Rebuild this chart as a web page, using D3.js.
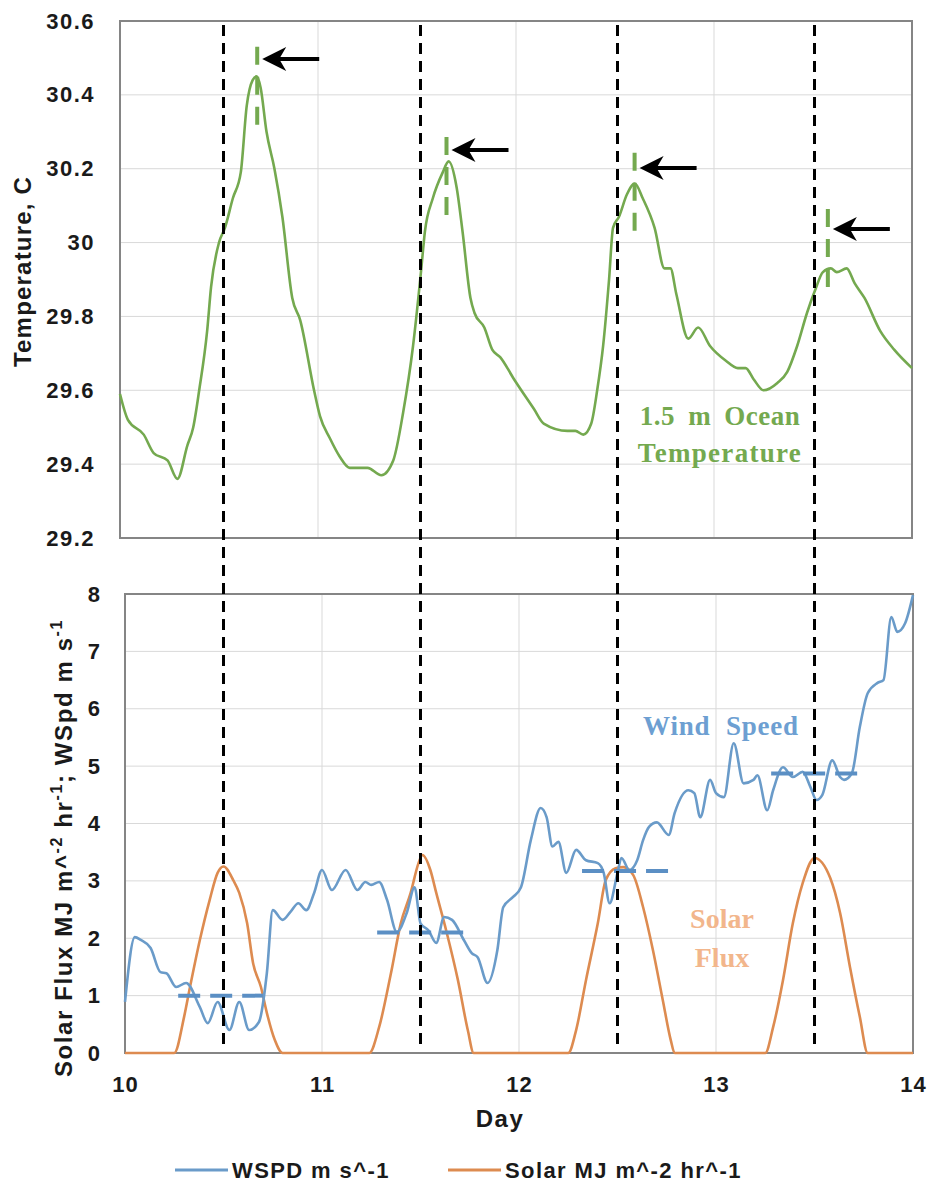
<!DOCTYPE html>
<html>
<head>
<meta charset="utf-8">
<script src="https://cdn.jsdelivr.net/npm/d3@7"></script>
<style>
  body { margin: 0; background: #fff; }
  text { font-family: "Liberation Sans", Arial, sans-serif; font-weight: bold; fill: #1a1a1a; }
  .grid line { stroke: #d9d9d9; stroke-width: 1; }
  .frame { fill: none; stroke: #858585; stroke-width: 2; }
  .note { font-family: "Liberation Serif", "Times New Roman", serif; font-weight: bold; }
</style>
</head>
<body>
<script>
// 1.5 m ocean temperature (day, deg C)
var tempSeries = [
  [10.00,29.59],[10.04,29.52],[10.12,29.48],[10.17,29.43],[10.24,29.41],[10.29,29.36],[10.34,29.45],
  [10.37,29.50],[10.40,29.60],[10.44,29.76],[10.46,29.88],[10.50,30.00],[10.53,30.04],[10.57,30.12],
  [10.61,30.19],[10.64,30.37],[10.67,30.44],[10.69,30.45],[10.71,30.42],[10.74,30.30],[10.78,30.20],
  [10.82,30.07],[10.87,29.85],[10.91,29.79],[10.98,29.60],[11.01,29.53],[11.06,29.47],[11.11,29.42],
  [11.16,29.39],[11.25,29.39],[11.32,29.37],[11.38,29.41],[11.43,29.54],[11.48,29.72],[11.52,29.92],
  [11.54,30.03],[11.58,30.12],[11.63,30.19],[11.66,30.22],[11.70,30.15],[11.73,30.03],[11.77,29.85],
  [11.79,29.81],[11.84,29.77],[11.88,29.71],[11.92,29.69],[11.99,29.63],[12.09,29.55],[12.14,29.51],
  [12.26,29.49],[12.30,29.49],[12.34,29.48],[12.38,29.51],[12.41,29.60],[12.44,29.72],[12.47,29.90],
  [12.49,30.04],[12.52,30.07],[12.56,30.13],[12.60,30.16],[12.64,30.12],[12.70,30.04],[12.75,29.93],
  [12.78,29.93],[12.81,29.86],[12.87,29.74],[12.92,29.77],[12.98,29.72],[13.06,29.68],[13.12,29.66],
  [13.16,29.66],[13.20,29.63],[13.25,29.60],[13.32,29.62],[13.37,29.65],[13.42,29.72],[13.47,29.81],
  [13.51,29.87],[13.55,29.92],[13.59,29.93],[13.62,29.92],[13.67,29.93],[13.71,29.89],[13.76,29.85],
  [13.84,29.76],[13.91,29.71],[14.00,29.66]
];

// wind speed, m/s
var windSeries = [
  [10.00,0.89],[10.05,2.02],[10.08,1.97],[10.13,1.83],[10.18,1.41],[10.21,1.39],[10.26,1.15],[10.31,1.22],
  [10.38,0.80],[10.42,0.52],[10.47,0.89],[10.53,0.40],[10.58,0.89],[10.63,0.40],[10.68,0.54],[10.72,1.39],
  [10.75,2.49],[10.80,2.32],[10.84,2.46],[10.88,2.61],[10.92,2.49],[10.96,2.79],[11.00,3.19],[11.05,2.84],
  [11.12,3.19],[11.18,2.84],[11.22,2.98],[11.25,2.93],[11.29,2.98],[11.33,2.67],[11.38,2.11],[11.43,2.44],
  [11.47,2.89],[11.50,2.26],[11.54,2.14],[11.58,1.92],[11.62,2.37],[11.66,2.32],[11.72,1.97],[11.76,1.74],
  [11.79,1.67],[11.84,1.22],[11.89,1.79],[11.92,2.54],[11.97,2.72],[12.01,2.89],[12.06,3.71],[12.11,4.27],
  [12.14,4.11],[12.17,3.60],[12.20,3.68],[12.24,3.14],[12.29,3.54],[12.34,3.36],[12.40,3.31],[12.43,3.14],
  [12.46,2.61],[12.50,3.14],[12.52,3.40],[12.56,3.19],[12.60,3.36],[12.63,3.71],[12.66,3.94],[12.70,4.02],
  [12.76,3.80],[12.79,4.18],[12.86,4.58],[12.89,4.53],[12.92,4.11],[12.97,4.76],[13.00,4.53],[13.04,4.46],
  [13.09,5.40],[13.14,4.70],[13.19,4.76],[13.21,4.84],[13.26,4.23],[13.29,4.58],[13.34,4.98],[13.39,4.81],
  [13.44,4.90],[13.48,4.63],[13.51,4.41],[13.54,4.50],[13.59,5.10],[13.63,4.81],[13.65,4.76],[13.69,4.88],
  [13.73,5.68],[13.77,6.27],[13.82,6.45],[13.85,6.50],[13.89,7.60],[13.92,7.34],[13.96,7.49],[14.00,7.98]
];

// solar flux, MJ m^-2 hr^-1
var solarSeries = [
  [10.00,0],[10.25,0],[10.30,0.63],[10.33,1.15],[10.38,1.97],[10.43,2.67],[10.47,3.14],[10.50,3.25],
  [10.55,3.01],[10.58,2.79],[10.62,2.26],[10.65,1.57],[10.69,1.15],[10.72,0.70],[10.76,0.23],[10.80,0],
  [11.24,0],[11.29,0.45],[11.35,1.39],[11.40,2.26],[11.45,2.79],[11.49,3.31],[11.51,3.45],[11.55,3.19],
  [11.58,2.79],[11.63,2.14],[11.69,1.27],[11.74,0.40],[11.77,0],[12.25,0],[12.29,0.40],[12.34,1.27],
  [12.40,2.26],[12.44,3.01],[12.49,3.22],[12.53,3.24],[12.58,3.10],[12.63,2.54],[12.68,1.79],[12.73,0.92],
  [12.77,0.23],[12.79,0],[13.25,0],[13.29,0.45],[13.34,1.27],[13.39,2.26],[13.44,2.96],[13.50,3.40],
  [13.58,3.05],[13.63,2.44],[13.68,1.50],[13.73,0.63],[13.77,0],[14.00,0]
];

// mean wind over each daylight window: [start, end, value]
var windMeans = [[10.27,10.70,1.0],[11.28,11.72,2.1],[12.32,12.76,3.17],[13.28,13.72,4.87]];

// local noon lines
var noonDays = [10.5, 11.5, 12.5, 13.5];

// temperature peaks: [day, marker top, marker bottom, arrow level]
var peakMarks = [
  [10.693, 30.530, 30.300, 30.497],
  [11.649, 30.286, 30.056, 30.251],
  [12.599, 30.243, 30.007, 30.202],
  [13.575, 30.091, 29.858, 30.037]
];

var dayTicks = [10, 11, 12, 13, 14];
var tempTicks = [29.2, 29.4, 29.6, 29.8, 30, 30.2, 30.4, 30.6];
var fluxTicks = [0, 1, 2, 3, 4, 5, 6, 7, 8];

var green = "#74a94f", blue = "#6a9bc9", orange = "#dd8b50";

var width = 930, height = 1184;

var svg = d3.select("body").append("svg")
    .attr("width", width)
    .attr("height", height);

// ---- top panel: temperature
var tBox = {left: 120, top: 21, width: 792, height: 517};

var xt = d3.scaleLinear().domain([10, 14]).range([tBox.left, tBox.left + tBox.width]);
var yt = d3.scaleLinear().domain([29.2, 30.6]).range([tBox.top + tBox.height, tBox.top]);

var gTop = svg.append("g");

gTop.append("g")
    .attr("class", "grid")
    .selectAll("line")
    .data(tempTicks.slice(1, -1))
    .enter().append("line")
    .attr("x1", tBox.left).attr("x2", tBox.left + tBox.width)
    .attr("y1", d => yt(d)).attr("y2", d => yt(d));

gTop.append("g")
    .attr("class", "grid")
    .selectAll("line")
    .data(dayTicks.slice(1, -1))
    .enter().append("line")
    .attr("x1", d => xt(d)).attr("x2", d => xt(d))
    .attr("y1", tBox.top).attr("y2", tBox.top + tBox.height);

gTop.append("rect")
    .attr("class", "frame")
    .attr("x", tBox.left).attr("y", tBox.top)
    .attr("width", tBox.width).attr("height", tBox.height);

gTop.append("g")
    .attr("transform", "translate(" + (tBox.left - 22) + ",0)")
    .call(d3.axisLeft(yt).tickValues(tempTicks).tickSize(0).tickFormat(d3.format("~g")))
    .call(g => g.select(".domain").remove())
    .selectAll("text")
    .style("font-size", "22px")
    .style("letter-spacing", "1.5px")
    .attr("fill", "#1a1a1a");

svg.append("text")
    .attr("transform", "translate(31," + (tBox.top + tBox.height / 2 - 8) + ") rotate(-90)")
    .attr("text-anchor", "middle")
    .style("font-size", "24px")
    .style("letter-spacing", "1.2px")
    .text("Temperature, C");

gTop.append("path")
    .datum(tempSeries)
    .attr("fill", "none")
    .attr("stroke", green)
    .attr("stroke-width", 2.6)
    .attr("d", d3.line().x(d => xt(d[0])).y(d => yt(d[1])).curve(d3.curveMonotoneX));

// peak markers and arrows
gTop.selectAll(".peak")
    .data(peakMarks)
    .enter().append("line")
    .attr("class", "peak")
    .attr("x1", d => xt(d[0])).attr("x2", d => xt(d[0]))
    .attr("y1", d => yt(d[1])).attr("y2", d => yt(d[2]))
    .attr("stroke", green)
    .attr("stroke-width", 4)
    .attr("stroke-dasharray", "18,12");

var arrow = gTop.selectAll(".arrow")
    .data(peakMarks)
    .enter().append("g")
    .attr("class", "arrow")
    .attr("transform", d => "translate(" + (xt(d[0]) + 5) + "," + yt(d[3]) + ")");

arrow.append("line")
    .attr("x1", 14).attr("x2", 57)
    .attr("stroke", "#000")
    .attr("stroke-width", 4);

arrow.append("path")
    .attr("d", "M0,0L24,-12L17,0L24,12Z")
    .attr("fill", "#000");

svg.append("text")
    .attr("class", "note")
    .attr("x", 720).attr("y", 425)
    .attr("text-anchor", "middle")
    .style("fill", green)
    .style("font-size", "27px")
    .style("letter-spacing", "0.5px")
    .style("word-spacing", "6px")
    .text("1.5 m Ocean");

svg.append("text")
    .attr("class", "note")
    .attr("x", 720).attr("y", 462)
    .attr("text-anchor", "middle")
    .style("fill", green)
    .style("font-size", "27px")
    .style("letter-spacing", "1.3px")
    .text("Temperature");

// ---- bottom panel: wind and solar
var bBox = {left: 125, top: 594, width: 788, height: 459};

var xb = d3.scaleLinear().domain([10, 14]).range([bBox.left, bBox.left + bBox.width]);
var yb = d3.scaleLinear().domain([0, 8]).range([bBox.top + bBox.height, bBox.top]);

var gBot = svg.append("g");

gBot.append("g")
    .attr("class", "grid")
    .selectAll("line")
    .data(fluxTicks.slice(1, -1))
    .enter().append("line")
    .attr("x1", bBox.left).attr("x2", bBox.left + bBox.width)
    .attr("y1", d => yb(d)).attr("y2", d => yb(d));

gBot.append("g")
    .attr("class", "grid")
    .selectAll("line")
    .data(dayTicks.slice(1, -1))
    .enter().append("line")
    .attr("x1", d => xb(d)).attr("x2", d => xb(d))
    .attr("y1", bBox.top).attr("y2", bBox.top + bBox.height);

gBot.append("rect")
    .attr("class", "frame")
    .attr("x", bBox.left).attr("y", bBox.top)
    .attr("width", bBox.width).attr("height", bBox.height);

gBot.append("g")
    .attr("transform", "translate(" + (bBox.left - 22) + ",0)")
    .call(d3.axisLeft(yb).tickValues(fluxTicks).tickSize(0).tickFormat(d3.format("d")))
    .call(g => g.select(".domain").remove())
    .selectAll("text")
    .style("font-size", "22px")
    .attr("fill", "#1a1a1a");

gBot.append("g")
    .attr("transform", "translate(0," + (bBox.top + bBox.height + 20) + ")")
    .call(d3.axisBottom(xb).tickValues(dayTicks).tickSize(0).tickFormat(d3.format("d")))
    .call(g => g.select(".domain").remove())
    .selectAll("text")
    .style("font-size", "22px")
    .style("letter-spacing", "1px")
    .attr("fill", "#1a1a1a");

svg.append("text")
    .attr("x", 500).attr("y", 1127)
    .attr("text-anchor", "middle")
    .style("font-size", "24px")
    .style("letter-spacing", "1.5px")
    .text("Day");

var ytitle = svg.append("text")
    .attr("transform", "translate(72,848) rotate(-90)")
    .attr("text-anchor", "middle")
    .style("font-size", "24px")
    .style("letter-spacing", "1.6px");
ytitle.append("tspan").text("Solar Flux MJ m^");
ytitle.append("tspan").attr("dy", -10).style("font-size", "16px").text("-2");
ytitle.append("tspan").attr("dy", 10).text(" hr");
ytitle.append("tspan").attr("dy", -10).style("font-size", "16px").text("-1");
ytitle.append("tspan").attr("dy", 10).text("; WSpd m s");
ytitle.append("tspan").attr("dy", -10).style("font-size", "16px").text("-1");

gBot.append("path")
    .datum(solarSeries)
    .attr("fill", "none")
    .attr("stroke", orange)
    .attr("stroke-width", 2.6)
    .attr("d", d3.line().x(d => xb(d[0])).y(d => yb(d[1])).curve(d3.curveMonotoneX));

gBot.append("path")
    .datum(windSeries)
    .attr("fill", "none")
    .attr("stroke", blue)
    .attr("stroke-width", 2.6)
    .attr("d", d3.line().x(d => xb(d[0])).y(d => yb(d[1])).curve(d3.curveMonotoneX));

gBot.selectAll(".mean")
    .data(windMeans)
    .enter().append("line")
    .attr("class", "mean")
    .attr("x1", d => xb(d[0])).attr("x2", d => xb(d[1]))
    .attr("y1", d => yb(d[2])).attr("y2", d => yb(d[2]))
    .attr("stroke", "#5b8fc4")
    .attr("stroke-width", 4)
    .attr("stroke-dasharray", "22,10");

svg.append("text")
    .attr("class", "note")
    .attr("x", 721).attr("y", 735)
    .attr("text-anchor", "middle")
    .style("fill", "#6d9fd2")
    .style("font-size", "27px")
    .style("letter-spacing", "0.8px")
    .style("word-spacing", "8px")
    .text("Wind Speed");

svg.append("text")
    .attr("class", "note")
    .attr("x", 722).attr("y", 928)
    .attr("text-anchor", "middle")
    .style("fill", "#f2b68c")
    .style("font-size", "28px")
    .text("Solar");

svg.append("text")
    .attr("class", "note")
    .attr("x", 722).attr("y", 967)
    .attr("text-anchor", "middle")
    .style("fill", "#f2b68c")
    .style("font-size", "28px")
    .text("Flux");

// noon lines through both panels
svg.selectAll(".noon")
    .data(noonDays)
    .enter().append("line")
    .attr("class", "noon")
    .attr("x1", d => xb(d)).attr("x2", d => xb(d))
    .attr("y1", tBox.top + 4).attr("y2", bBox.top + bBox.height - 6)
    .attr("stroke", "#000")
    .attr("stroke-width", 3)
    .attr("stroke-dasharray", "11,7");

// legend
var legendItems = [
  {label: "WSPD m s^-1", color: blue, x: 175},
  {label: "Solar MJ m^-2 hr^-1", color: orange, x: 448}
];

var legend = svg.selectAll(".legend")
    .data(legendItems)
    .enter().append("g")
    .attr("class", "legend")
    .attr("transform", d => "translate(" + d.x + ",1170)");

legend.append("line")
    .attr("x1", 0).attr("x2", 53)
    .attr("stroke", d => d.color)
    .attr("stroke-width", 3);

legend.append("text")
    .attr("x", 57).attr("y", 8)
    .style("font-size", "22px")
    .style("letter-spacing", "1.4px")
    .text(d => d.label);
</script>
</body>
</html>
